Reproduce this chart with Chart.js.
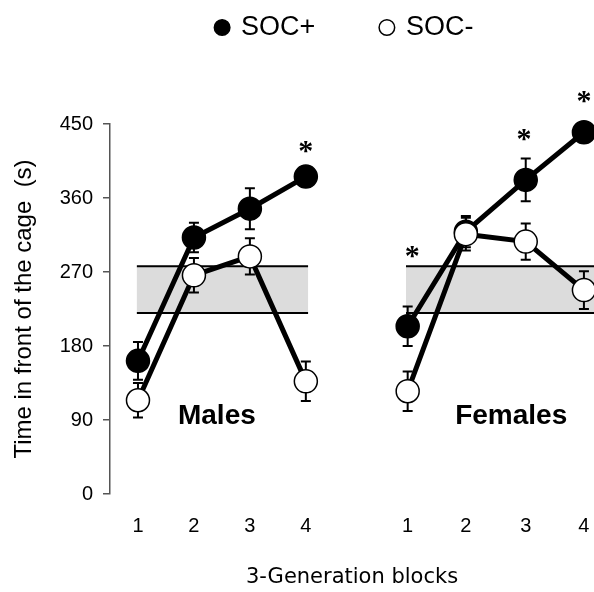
<!DOCTYPE html>
<html>
<head>
<meta charset="utf-8">
<script src="https://cdn.jsdelivr.net/npm/chart.js@4.4.0/dist/chart.umd.min.js"></script>
<style>
  html, body { margin: 0; padding: 0; background: #fff; }
  #wrap { width: 594px; height: 592px; }
</style>
</head>
<body>
<div id="wrap"><canvas id="chart"></canvas></div>
<script>
// tick labels and x positions of the two panels
const blockLabels = ["1", "2", "3", "4"];
const xMales = [1, 2, 3, 4];
const xFemales = [5.82, 6.86, 7.93, 8.97];

// means and SEM
const socPlusMales = [162, 312, 347, 386];
const socPlusMalesErr = [23, 18, 25, 10];
const socMinusMales = [114, 266, 289, 137];
const socMinusMalesErr = [21, 21, 22, 24];

const socPlusFemales = [204, 319, 382, 440];
const socPlusFemalesErr = [24, 19, 26, 8];
const socMinusFemales = [125, 316, 307, 248];
const socMinusFemalesErr = [24, 20, 22, 23];

// shaded reference band
const bandRange = [220, 277];
const bandMales = [0.98, 4.04];
const bandFemales = [5.79, 9.3];

// significance stars
const starX = [4, 5.9, 7.9, 8.97];
const starY = [427, 299, 441, 488];

const panelNames = ["Males", "Females"];
const panelX = [2.41, 7.67];
const panelY = 94;

function buildSeries(mVals, mErr, fVals, fErr) {
  const pts = xMales.map((x, i) => ({ x: x, y: mVals[i], err: mErr[i] }));
  pts.push({ x: 4.9, y: null, err: 0 }); // gap between panels
  xFemales.forEach((x, i) => pts.push({ x: x, y: fVals[i], err: fErr[i] }));
  return pts;
}

const legendSpace = {
  id: "legendSpace",
  beforeInit(chart) {
    const fit = chart.legend.fit;
    chart.legend.fit = function () {
      fit.bind(chart.legend)();
      this.height = 124;
    };
  },
  afterLayout(chart) {
    chart.legend.top = -52;
    chart.legend.left += 48;
    chart.legend.right += 48;
  },
};

const bandAndErrors = {
  id: "bandAndErrors",
  beforeDatasetsDraw(chart) {
    const { ctx, scales: { x, y } } = chart;
    const yTop = y.getPixelForValue(bandRange[1]);
    const yBot = y.getPixelForValue(bandRange[0]);
    ctx.save();
    [bandMales, bandFemales].forEach((b) => {
      const x0 = x.getPixelForValue(b[0]);
      const x1 = x.getPixelForValue(b[1]);
      ctx.fillStyle = "#dcdcdc";
      ctx.fillRect(x0, yTop, x1 - x0, yBot - yTop);
      ctx.strokeStyle = "#000";
      ctx.lineWidth = 2;
      ctx.beginPath();
      ctx.moveTo(x0, yTop); ctx.lineTo(x1, yTop);
      ctx.moveTo(x0, yBot); ctx.lineTo(x1, yBot);
      ctx.stroke();
    });

    // error bars
    ctx.strokeStyle = "#000";
    ctx.lineWidth = 2;
    chart.data.datasets.forEach((ds) => {
      ds.data.forEach((p) => {
        if (p.y == null) return;
        const px = x.getPixelForValue(p.x);
        const t = y.getPixelForValue(p.y + p.err);
        const b = y.getPixelForValue(p.y - p.err);
        ctx.beginPath();
        ctx.moveTo(px, t); ctx.lineTo(px, b);
        ctx.moveTo(px - 5, t); ctx.lineTo(px + 5, t);
        ctx.moveTo(px - 5, b); ctx.lineTo(px + 5, b);
        ctx.stroke();
      });
    });
    ctx.restore();
  },
  afterDatasetsDraw(chart) {
    const { ctx, scales: { x, y } } = chart;
    ctx.save();
    ctx.fillStyle = "#000";
    ctx.textAlign = "center";
    ctx.textBaseline = "alphabetic";
    ctx.font = "bold 30px 'Liberation Serif'";
    starX.forEach((sx, i) => {
      ctx.fillText("*", x.getPixelForValue(sx), y.getPixelForValue(starY[i]) + 17);
    });
    ctx.font = "bold 28px 'Liberation Sans'";
    ctx.textBaseline = "middle";
    panelNames.forEach((name, i) => {
      ctx.fillText(name, x.getPixelForValue(panelX[i]), y.getPixelForValue(panelY));
    });
    ctx.restore();
  },
};

new Chart(document.getElementById("chart"), {
  type: "line",
  data: {
    datasets: [
      {
        label: "SOC+",
        data: buildSeries(socPlusMales, socPlusMalesErr, socPlusFemales, socPlusFemalesErr),
        borderColor: "#000",
        borderWidth: 5,
        pointRadius: 11.5,
        pointBackgroundColor: "#000",
        pointBorderColor: "#000",
        pointBorderWidth: 1.5,
        spanGaps: false,
        clip: false,
        order: 1,
      },
      {
        label: "SOC-",
        data: buildSeries(socMinusMales, socMinusMalesErr, socMinusFemales, socMinusFemalesErr),
        borderColor: "#000",
        borderWidth: 5,
        pointRadius: 11.5,
        pointBackgroundColor: "#fff",
        pointBorderColor: "#000",
        pointBorderWidth: 1.5,
        spanGaps: false,
        clip: false,
        order: 0,
      },
    ],
  },
  options: {
    responsive: true,
    maintainAspectRatio: false,
    animation: false,
    layout: { padding: 0, autoPadding: false },
    plugins: {
      legend: {
        position: "top",
        labels: {
          usePointStyle: true,
          boxWidth: 11,
          boxHeight: 11,
          padding: 66,
          color: "#000",
          font: { family: "'Liberation Sans'", size: 27 },
          sort: (a, b) => a.datasetIndex - b.datasetIndex,
        },
      },
      tooltip: { enabled: false },
    },
    scales: {
      x: {
        type: "linear",
        min: 0.5,
        max: 9.15,
        afterBuildTicks: (scale) => {
          scale.ticks = xMales.concat(xFemales).map((v) => ({ value: v }));
        },
        afterFit: (scale) => {
          scale.height = 98;
          scale.paddingLeft = 0;
          scale.paddingRight = 0;
        },
        ticks: {
          callback: (v, i) => blockLabels[i % 4],
          color: "#000",
          font: { family: "'Liberation Sans'", size: 20 },
          padding: 12,
          maxRotation: 0,
          autoSkip: false,
        },
        grid: { display: false },
        border: { display: false },
        title: {
          display: true,
          text: "3-Generation blocks",
          color: "#000",
          font: { family: "'DejaVu Sans'", size: 21 },
          padding: { top: 0, bottom: 2 },
        },
      },
      y: {
        min: 0,
        max: 450,
        afterFit: (scale) => { scale.width = 110; },
        ticks: {
          stepSize: 90,
          color: "#000",
          font: { family: "'Liberation Sans'", size: 20 },
          padding: 10,
        },
        grid: { drawOnChartArea: false, drawTicks: true, tickLength: 7, color: "#555", lineWidth: 1.5 },
        border: { color: "#555", width: 1.5 },
        title: {
          display: true,
          text: "Time in front of the cage  (s)",
          color: "#000",
          font: { family: "'Liberation Sans'", size: 24 },
          padding: { top: 10, bottom: 0 },
        },
      },
    },
  },
  plugins: [legendSpace, bandAndErrors],
});
</script>
</body>
</html>
